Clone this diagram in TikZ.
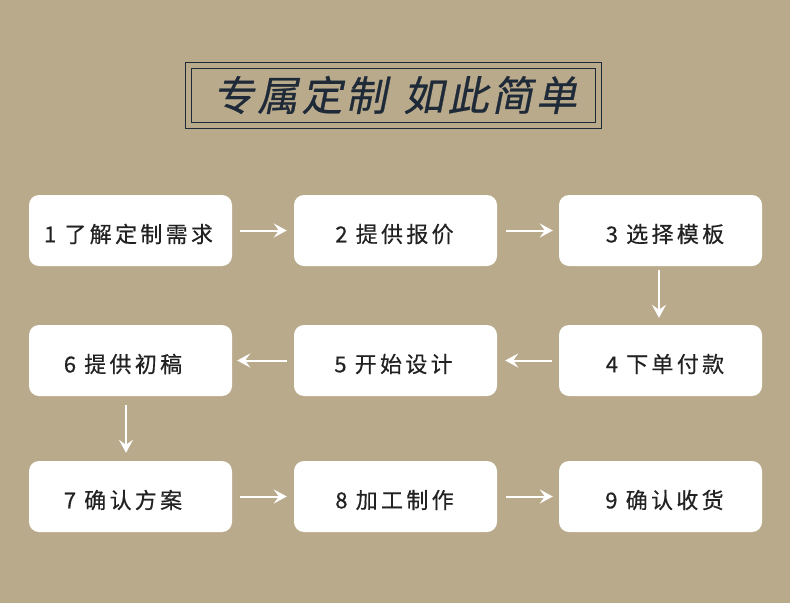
\documentclass[tikz,border=0pt]{standalone}
\usepackage{fontspec}
\newfontfamily\cjk[LetterSpace=15,FakeBold=0.5]{Noto Sans CJK SC}
\newfontfamily\cjkslant[FakeSlant=0.2,FakeBold=0.6,LetterSpace=8]{Noto Sans CJK SC}
\usetikzlibrary{arrows.meta}
\definecolor{bg}{HTML}{B9AA8C}
\definecolor{ink}{HTML}{222222}
\definecolor{titleink}{HTML}{1F2A38}
\tikzset{
  stepbox/.style={fill=white, rounded corners=10pt, minimum width=203pt, minimum height=71pt, inner sep=0pt},
  steptext/.style={inner sep=0pt, font=\cjk\fontsize{22}{26}\selectfont, text=ink},
  flow/.style={draw=white, line width=2pt, -{Stealth[length=13pt,width=14pt,inset=5pt]}}
}
\begin{document}
\begin{tikzpicture}[x=1pt,y=-1pt]
\fill[bg] (0,0) rectangle (790,603);
\useasboundingbox (0,0) rectangle (790,603);
\node[draw=titleink, line width=1pt, minimum width=416pt, minimum height=66pt] (tout) at (393,95) {};
\node[draw=titleink, line width=1pt, minimum width=404pt, minimum height=54pt] (tin) at (393,95) {};
\node[text=titleink, font=\cjkslant\fontsize{41}{45}\selectfont] (title) at (395,95) {专属定制\hspace{0.4em}如此简单};
\node[stepbox] (s1) at (130.5,230.5) {};
\node[stepbox] (s2) at (395.5,230.5) {};
\node[stepbox] (s3) at (660.5,230.5) {};
\node[stepbox] (s4) at (660.5,360.5) {};
\node[stepbox] (s5) at (395.5,360.5) {};
\node[stepbox] (s6) at (130.5,360.5) {};
\node[stepbox] (s7) at (130.5,496.5) {};
\node[stepbox] (s8) at (395.5,496.5) {};
\node[stepbox] (s9) at (660.5,496.5) {};
\node[steptext] (t1) at ([xshift=-2pt,yshift=-3.5pt]s1.center) {1 了解定制需求};
\node[steptext] (t2) at ([xshift=-1pt,yshift=-3.5pt]s2.center) {2 提供报价};
\node[steptext] (t3) at ([xshift=4.5pt,yshift=-3.5pt]s3.center) {3 选择模板};
\node[steptext] (t4) at ([xshift=4.5pt,yshift=-3.5pt]s4.center) {4 下单付款};
\node[steptext] (t5) at ([xshift=-2pt,yshift=-3.5pt]s5.center) {5 开始设计};
\node[steptext] (t6) at ([xshift=-7.5pt,yshift=-3.5pt]s6.center) {6 提供初稿};
\node[steptext] (t7) at ([xshift=-7.5pt,yshift=-3.5pt]s7.center) {7 确认方案};
\node[steptext] (t8) at ([xshift=-1pt,yshift=-3.5pt]s8.center) {8 加工制作};
\node[steptext] (t9) at ([xshift=4pt,yshift=-3.5pt]s9.center) {9 确认收货};
\draw[flow] ([xshift=8pt]s1.east) -- ([xshift=-7pt]s2.west);
\draw[flow] ([xshift=9pt]s2.east) -- ([xshift=-6pt]s3.west);
\draw[flow] ([xshift=-1.5pt,yshift=-4pt]s3.south) -- ([xshift=-1.5pt,yshift=7pt]s4.north);
\draw[flow] ([xshift=-7pt]s4.west) -- ([xshift=8pt]s5.east);
\draw[flow] ([xshift=-7pt]s5.west) -- ([xshift=5pt]s6.east);
\draw[flow] ([xshift=-4.5pt,yshift=-9pt]s6.south) -- ([xshift=-4.5pt,yshift=8pt]s7.north);
\draw[flow] ([xshift=8pt]s7.east) -- ([xshift=-7pt]s8.west);
\draw[flow] ([xshift=9pt]s8.east) -- ([xshift=-6pt]s9.west);
\end{tikzpicture}
\end{document}
